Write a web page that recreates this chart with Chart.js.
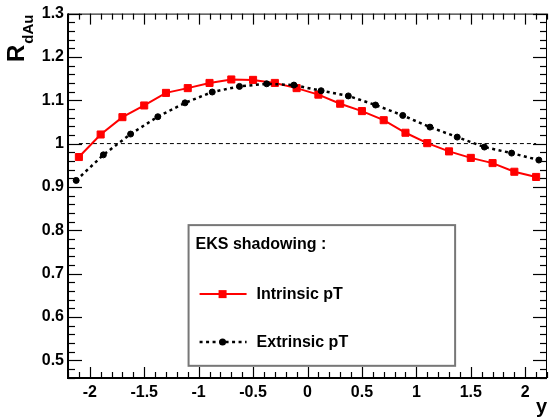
<!DOCTYPE html>
<html>
<head>
<meta charset="utf-8">
<script src="https://cdn.jsdelivr.net/npm/chart.js@4.4.1/dist/chart.umd.min.js"></script>
<style>
  html, body { margin: 0; padding: 0; background: #fff; }
  #wrap { width: 553px; height: 420px; }
</style>
</head>
<body>
<div id="wrap"><canvas id="c" width="553" height="420"></canvas></div>
<script>
// values
const intrinsicX = [-2.1, -1.9, -1.7, -1.5, -1.3, -1.1, -0.9, -0.7, -0.5, -0.3, -0.1,
                    0.1, 0.3, 0.5, 0.7, 0.9, 1.1, 1.3, 1.5, 1.7, 1.9, 2.1];
const intrinsicY = [0.969, 1.021, 1.061, 1.088, 1.117, 1.128, 1.140, 1.148, 1.147, 1.140, 1.128,
                    1.113, 1.092, 1.075, 1.054, 1.025, 1.001, 0.982, 0.967, 0.955, 0.935, 0.923];
const extrinsicX = [-2.125, -1.875, -1.625, -1.375, -1.125, -0.875, -0.625, -0.375, -0.125,
                    0.125, 0.375, 0.625, 0.875, 1.125, 1.375, 1.625, 1.875, 2.125];
const extrinsicY = [0.915, 0.974, 1.022, 1.062, 1.094, 1.119, 1.132, 1.138, 1.135,
                    1.122, 1.110, 1.089, 1.065, 1.038, 1.015, 0.992, 0.978, 0.962];
const unityX = [-2.1, 2.1];
const unityY = [1, 1];

const xTicks = [-2, -1.5, -1, -0.5, 0, 0.5, 1, 1.5, 2];
const yTicks = [0.5, 0.6, 0.7, 0.8, 0.9, 1.0, 1.1, 1.2, 1.3];

const legendTitle = "EKS shadowing :";
const seriesNames = ["Intrinsic pT", "Extrinsic pT"];
const xTitle = "y";

const FONT = '"Liberation Sans", Arial, sans-serif';

const toPoints = (xs, ys) => xs.map((x, i) => ({ x: x, y: ys[i] }));

// ROOT style frame with inside ticks, axis titles and the legend box
const rootFrame = {
  id: "rootFrame",
  afterDraw(chart) {
    const { ctx, chartArea: a, scales: { x, y } } = chart;
    const W = chart.width, H = chart.height;
    ctx.save();
    ctx.strokeStyle = "#000";
    ctx.lineWidth = 1.2;

    const seg = (x1, y1, x2, y2) => {
      ctx.beginPath(); ctx.moveTo(x1, y1); ctx.lineTo(x2, y2); ctx.stroke();
    };

    // y ticks, left and right
    for (let i = Math.ceil(y.min / 0.02 - 1e-6); i * 0.02 <= y.max + 1e-6; i++) {
      const py = Math.round(y.getPixelForValue(i * 0.02)) + 0.5;
      const len = i % 5 === 0 ? 14 : 7;
      seg(a.left, py, a.left + len, py);
      seg(a.right, py, a.right - len, py);
    }
    // x ticks, bottom and top
    for (let i = Math.ceil(x.min / 0.1 - 1e-6); i * 0.1 <= x.max + 1e-6; i++) {
      const px = Math.round(x.getPixelForValue(i * 0.1)) + 0.5;
      const len = i % 5 === 0 ? 11 : 6;
      seg(px, a.bottom, px, a.bottom - len);
      seg(px, a.top, px, a.top + len);
    }

    // frame
    ctx.lineWidth = 1;
    ctx.strokeRect(a.left + 0.5, a.top + 0.5, a.right - a.left - 1, a.bottom - a.top);
    ctx.lineWidth = 2;
    seg(a.left, a.top, a.left, a.bottom + 1);
    seg(a.left - 1, a.bottom, a.right, a.bottom);

    // y title R_dAu
    ctx.fillStyle = "#000";
    ctx.save();
    ctx.translate(24, 62);
    ctx.rotate(-Math.PI / 2);
    ctx.font = "bold 24px " + FONT;
    ctx.textBaseline = "alphabetic";
    ctx.fillText("R", 0, 0);
    const rw = ctx.measureText("R").width;
    ctx.font = "bold 15px " + FONT;
    ctx.fillText("dAu", rw + 1, 9);
    ctx.restore();

    // x title
    ctx.font = "bold 20px " + FONT;
    ctx.textAlign = "right";
    ctx.textBaseline = "alphabetic";
    ctx.fillText(xTitle, a.right, 413);

    // legend box (NDC like placement)
    const lx1 = 0.341 * W, lx2 = 0.823 * W;
    const ly1 = 0.536 * H, ly2 = 0.871 * H;
    ctx.fillStyle = "#fff";
    ctx.fillRect(lx1, ly1, lx2 - lx1, ly2 - ly1);
    ctx.strokeStyle = "#777";
    ctx.lineWidth = 2;
    ctx.strokeRect(lx1, ly1, lx2 - lx1, ly2 - ly1);

    ctx.fillStyle = "#000";
    ctx.textAlign = "left";
    ctx.font = "bold 16px " + FONT;
    ctx.fillText(legendTitle, lx1 + 7, ly1 + 24);

    const rows = [ly1 + 69, ly1 + 117];
    const symX1 = lx1 + 11, symX2 = lx1 + 58, symC = lx1 + 34;
    chart.data.datasets.slice(0, 2).forEach((ds, k) => {
      const ry = rows[k];
      ctx.strokeStyle = ds.borderColor;
      ctx.lineWidth = ds.borderWidth;
      ctx.setLineDash(ds.borderDash || []);
      seg(symX1, ry, symX2, ry);
      ctx.setLineDash([]);
      ctx.fillStyle = ds.backgroundColor;
      if (ds.pointStyle === "rect") {
        ctx.fillRect(symC - 4, ry - 4, 8, 8);
      } else {
        ctx.beginPath(); ctx.arc(symC, ry, 3.5, 0, Math.PI * 2); ctx.fill();
      }
      ctx.fillStyle = "#000";
      ctx.textBaseline = "middle";
      ctx.fillText(seriesNames[k], lx1 + 68, ry);
    });
    ctx.restore();
  }
};

new Chart(document.getElementById("c"), {
  type: "scatter",
  data: {
    datasets: [
      {
        label: seriesNames[0],
        data: toPoints(intrinsicX, intrinsicY),
        showLine: true,
        borderColor: "#ff0000",
        backgroundColor: "#ff0000",
        borderWidth: 2,
        pointStyle: "rect",
        pointRadius: 5,
        pointBorderWidth: 1,
        order: 1
      },
      {
        label: seriesNames[1],
        data: toPoints(extrinsicX, extrinsicY),
        showLine: true,
        borderColor: "#000",
        backgroundColor: "#000",
        borderWidth: 2.5,
        borderDash: [3, 3.5],
        pointStyle: "circle",
        pointRadius: 3,
        pointBorderWidth: 1,
        order: 0
      },
      {
        label: "unity",
        data: toPoints(unityX, unityY),
        showLine: true,
        borderColor: "#000",
        borderWidth: 1,
        borderDash: [4, 3],
        pointRadius: 0,
        order: 2
      }
    ]
  },
  options: {
    responsive: false,
    animation: false,
    events: [],
    layout: { padding: { top: 13, right: 1, left: 0, bottom: 0 } },
    plugins: { legend: { display: false }, tooltip: { enabled: false } },
    scales: {
      x: {
        type: "linear",
        min: -2.2,
        max: 2.2,
        grid: { display: false, drawTicks: false },
        border: { display: false },
        afterBuildTicks: s => { s.ticks = xTicks.map(v => ({ value: v })); },
        afterFit: s => { s.height = 42; },
        ticks: {
          autoSkip: false,
          maxRotation: 0,
          padding: 5,
          color: "#000",
          font: { family: FONT, size: 16, weight: "bold" },
          callback: v => String(+v.toFixed(1))
        }
      },
      y: {
        type: "linear",
        min: 0.459,
        max: 1.3,
        grid: { display: false, drawTicks: false },
        border: { display: false },
        afterBuildTicks: s => { s.ticks = yTicks.map(v => ({ value: v })); },
        afterFit: s => { s.width = 68; },
        ticks: {
          autoSkip: false,
          padding: 4,
          color: "#000",
          font: { family: FONT, size: 16, weight: "bold" },
          callback: v => String(+v.toFixed(1))
        }
      }
    }
  },
  plugins: [rootFrame]
});
</script>
</body>
</html>
